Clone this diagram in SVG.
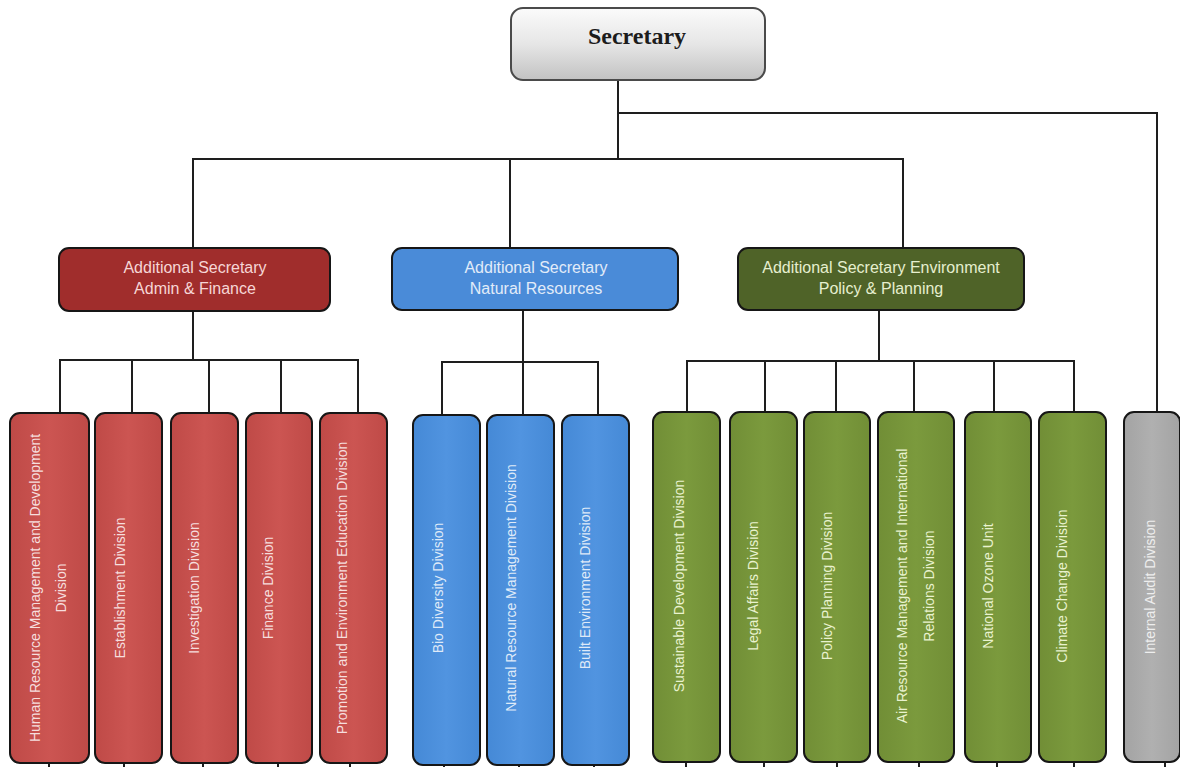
<svg xmlns="http://www.w3.org/2000/svg" width="1180" height="767" viewBox="0 0 1180 767">
<defs>
<linearGradient id="gSec" x1="0" y1="0" x2="0" y2="1">
<stop offset="0" stop-color="#fbfbfb"/><stop offset="0.5" stop-color="#e6e6e6"/><stop offset="1" stop-color="#c2c2c2"/>
</linearGradient>
<linearGradient id="gRed" x1="0" y1="0" x2="1" y2="0">
<stop offset="0" stop-color="#bf4a47"/><stop offset="0.5" stop-color="#cc5552"/><stop offset="1" stop-color="#bf4a47"/>
</linearGradient>
<linearGradient id="gBlue" x1="0" y1="0" x2="1" y2="0">
<stop offset="0" stop-color="#4589d6"/><stop offset="0.5" stop-color="#5194e0"/><stop offset="1" stop-color="#4589d6"/>
</linearGradient>
<linearGradient id="gGreen" x1="0" y1="0" x2="1" y2="0">
<stop offset="0" stop-color="#718e36"/><stop offset="0.5" stop-color="#7b9a3d"/><stop offset="1" stop-color="#718e36"/>
</linearGradient>
<linearGradient id="gGray" x1="0" y1="0" x2="1" y2="0">
<stop offset="0" stop-color="#a3a3a3"/><stop offset="0.5" stop-color="#b0b0b0"/><stop offset="1" stop-color="#a3a3a3"/>
</linearGradient>
</defs>
<style>
.conn line, .conn path { stroke:#1e1e1e; stroke-width:2; fill:none; }
.box { stroke:#161616; stroke-width:2; }
.head { font-family:"Liberation Sans", Arial, sans-serif; font-size:16px; text-anchor:middle; }
.div { font-family:"Liberation Sans", Arial, sans-serif; font-size:14px; text-anchor:middle; dominant-baseline:central; }
.tred { fill:#f6dede; }
.tblue { fill:#dfeaf8; }
.tgreen { fill:#e9f2cf; }
.tgray { fill:#eeeeee; }
</style>
<rect width="1180" height="767" fill="#ffffff"/>

<g class="conn" id="connectors">
<line x1="618" y1="80" x2="618" y2="159"/>
<path d="M618 113 H1157 V412"/>
<path d="M193 248 V159 H903 V248"/>
<line x1="510" y1="159" x2="510" y2="248"/>
<path d="M193 311 V360"/>
<path d="M60 413 V360 H358 V413"/>
<line x1="132" y1="360" x2="132" y2="413"/>
<line x1="209" y1="360" x2="209" y2="413"/>
<line x1="281" y1="360" x2="281" y2="413"/>
<path d="M523 310 V415"/>
<path d="M442 415 V362 H598 V415"/>
<path d="M879 310 V361"/>
<path d="M687 412 V361 H1074 V412"/>
<line x1="765" y1="361" x2="765" y2="412"/>
<line x1="836" y1="361" x2="836" y2="412"/>
<line x1="914" y1="361" x2="914" y2="412"/>
<line x1="994" y1="361" x2="994" y2="412"/>
<line x1="49" y1="763" x2="49" y2="767"/>
<line x1="124" y1="763" x2="124" y2="767"/>
<line x1="203" y1="763" x2="203" y2="767"/>
<line x1="278" y1="763" x2="278" y2="767"/>
<line x1="350" y1="763" x2="350" y2="767"/>
<line x1="444" y1="765" x2="444" y2="767"/>
<line x1="519" y1="765" x2="519" y2="767"/>
<line x1="594" y1="765" x2="594" y2="767"/>
<line x1="686" y1="762" x2="686" y2="767"/>
<line x1="764" y1="762" x2="764" y2="767"/>
<line x1="837" y1="762" x2="837" y2="767"/>
<line x1="919" y1="762" x2="919" y2="767"/>
<line x1="997" y1="762" x2="997" y2="767"/>
<line x1="1074" y1="762" x2="1074" y2="767"/>
<line x1="1165" y1="762" x2="1165" y2="767"/>
</g>

<g id="secretary">
<rect x="511" y="8" width="254" height="72" rx="12" fill="url(#gSec)" stroke="#4a4a4a" stroke-width="2"/>
<text x="637" y="44" font-family="Liberation Serif, 'Times New Roman', serif" font-size="24" font-weight="bold" fill="#1c1c1c" text-anchor="middle">Secretary</text>
</g>

<g id="as-admin-finance">
<rect class="box" x="59" y="248" width="271" height="63" rx="10" fill="#a02d2c"/>
<text class="head" x="195" y="273" fill="#f6d6d6">Additional Secretary</text>
<text class="head" x="195" y="294" fill="#f6d6d6">Admin &amp; Finance</text>
</g>
<g id="as-natural-resources">
<rect class="box" x="392" y="248" width="286" height="62" rx="10" fill="#4a8bd8"/>
<text class="head" x="536" y="273" fill="#e2ecf9">Additional Secretary</text>
<text class="head" x="536" y="294" fill="#e2ecf9">Natural Resources</text>
</g>
<g id="as-environment-policy">
<rect class="box" x="738" y="248" width="286" height="62" rx="10" fill="#4f6328"/>
<text class="head" x="881" y="273" fill="#e6efcf">Additional Secretary Environment</text>
<text class="head" x="881" y="294" fill="#e6efcf">Policy &amp; Planning</text>
</g>

<g id="hr-division">
<rect class="box" x="10" y="413" width="79" height="350" rx="10" fill="url(#gRed)"/>
<text class="div tred" transform="rotate(-90 35 588)" x="35" y="588">Human Resource Management and Development</text>
<text class="div tred" transform="rotate(-90 61 588)" x="61" y="588">Division</text>
</g>
<g id="establishment-division">
<rect class="box" x="95" y="413" width="67" height="350" rx="10" fill="url(#gRed)"/>
<text class="div tred" transform="rotate(-90 120 588)" x="120" y="588">Establishment Division</text>
</g>
<g id="investigation-division">
<rect class="box" x="171" y="413" width="67" height="350" rx="10" fill="url(#gRed)"/>
<text class="div tred" transform="rotate(-90 194 588)" x="194" y="588">Investigation Division</text>
</g>
<g id="finance-division">
<rect class="box" x="246" y="413" width="66" height="350" rx="10" fill="url(#gRed)"/>
<text class="div tred" transform="rotate(-90 268 588)" x="268" y="588">Finance Division</text>
</g>
<g id="promotion-division">
<rect class="box" x="320" y="413" width="67" height="350" rx="10" fill="url(#gRed)"/>
<text class="div tred" transform="rotate(-90 342 588)" x="342" y="588">Promotion and Environment Education Division</text>
</g>

<g id="biodiversity-division">
<rect class="box" x="413" y="415" width="67" height="350" rx="10" fill="url(#gBlue)"/>
<text class="div tblue" transform="rotate(-90 438 588)" x="438" y="588">Bio Diversity Division</text>
</g>
<g id="nrm-division">
<rect class="box" x="487" y="415" width="67" height="350" rx="10" fill="url(#gBlue)"/>
<text class="div tblue" transform="rotate(-90 511 588)" x="511" y="588">Natural Resource Management Division</text>
</g>
<g id="built-environment-division">
<rect class="box" x="562" y="415" width="67" height="350" rx="10" fill="url(#gBlue)"/>
<text class="div tblue" transform="rotate(-90 585 588)" x="585" y="588">Built Environment Division</text>
</g>

<g id="sustainable-development-division">
<rect class="box" x="653" y="412" width="67" height="350" rx="10" fill="url(#gGreen)"/>
<text class="div tgreen" transform="rotate(-90 679 586)" x="679" y="586">Sustainable Development Division</text>
</g>
<g id="legal-affairs-division">
<rect class="box" x="730" y="412" width="67" height="350" rx="10" fill="url(#gGreen)"/>
<text class="div tgreen" transform="rotate(-90 753 586)" x="753" y="586">Legal Affairs Division</text>
</g>
<g id="policy-planning-division">
<rect class="box" x="804" y="412" width="66" height="350" rx="10" fill="url(#gGreen)"/>
<text class="div tgreen" transform="rotate(-90 827 586)" x="827" y="586">Policy Planning Division</text>
</g>
<g id="air-resource-division">
<rect class="box" x="878" y="412" width="76" height="350" rx="10" fill="url(#gGreen)"/>
<text class="div tgreen" transform="rotate(-90 902 586)" x="902" y="586">Air Resource Management and International</text>
<text class="div tgreen" transform="rotate(-90 929 586)" x="929" y="586">Relations Division</text>
</g>
<g id="national-ozone-unit">
<rect class="box" x="965" y="412" width="66" height="350" rx="10" fill="url(#gGreen)"/>
<text class="div tgreen" transform="rotate(-90 988 586)" x="988" y="586">National Ozone Unit</text>
</g>
<g id="climate-change-division">
<rect class="box" x="1039" y="412" width="67" height="350" rx="10" fill="url(#gGreen)"/>
<text class="div tgreen" transform="rotate(-90 1062 586)" x="1062" y="586">Climate Change Division</text>
</g>

<g id="internal-audit-division">
<rect class="box" x="1124" y="412" width="56" height="350" rx="10" fill="url(#gGray)"/>
<text class="div tgray" transform="rotate(-90 1150 587)" x="1150" y="587">Internal Audit Division</text>
</g>
</svg>
